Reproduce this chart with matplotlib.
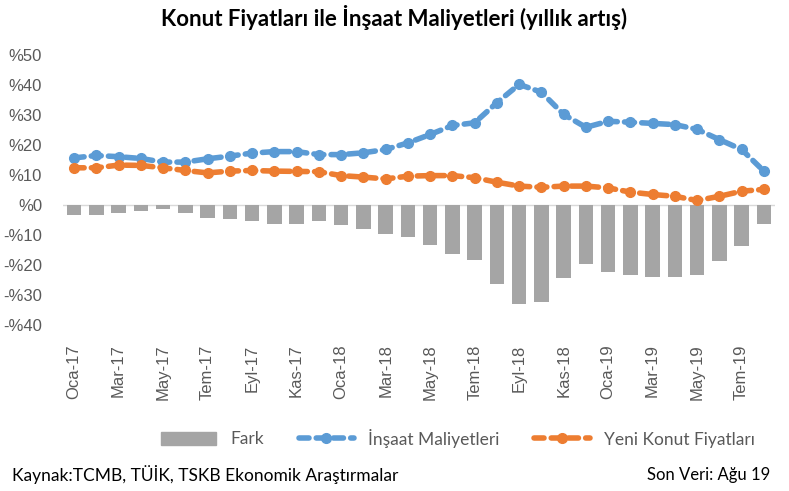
import matplotlib.pyplot as plt
from matplotlib.lines import Line2D
from matplotlib.patches import Patch

aylar = ["Oca", "Şub", "Mar", "Nis", "May", "Haz", "Tem", "Ağu", "Eyl", "Eki", "Kas", "Ara"]
etiketler = []
for yil in ["17", "18", "19"]:
    for ay in aylar:
        etiketler.append(ay + "-" + yil)
etiketler = etiketler[:32]  # Oca-17 .. Ağu-19

insaat = [15.7, 16.5, 16.1, 15.5, 14.3, 14.3, 15.4, 16.3, 17.3, 17.8, 17.8, 16.8,
          16.8, 17.4, 18.5, 20.7, 23.5, 26.5, 27.4, 34.1, 40.2, 37.6, 30.2, 25.9,
          27.9, 27.6, 27.2, 26.8, 25.2, 21.8, 18.5, 11.3]
konut = [12.4, 12.4, 13.3, 13.2, 12.4, 11.5, 10.7, 11.3, 11.5, 11.3, 11.2, 11.1,
         9.8, 9.3, 8.7, 9.6, 9.8, 9.8, 9.1, 7.6, 6.3, 5.9, 6.3, 6.3,
         5.7, 4.3, 3.5, 2.9, 1.5, 2.9, 4.6, 5.2]
fark = [-3.2, -3.2, -2.6, -2.0, -1.5, -2.6, -4.3, -4.8, -5.4, -6.3, -6.3, -5.4,
        -6.8, -7.9, -9.6, -10.6, -13.3, -16.5, -18.2, -26.2, -33.1, -32.5, -24.5, -19.7,
        -22.4, -23.4, -24.0, -24.0, -23.4, -18.6, -13.8, -6.3]

mavi = "#5B9BD5"
turuncu = "#ED7D31"
gri = "#A5A5A5"
yazi = "#595959"

plt.rcParams['font.family'] = ['Liberation Sans', 'DejaVu Sans']

fig = plt.figure(figsize=(7.89, 4.91), dpi=100)
ax = fig.add_axes([63 / 789, 1 - 325 / 491, 712 / 789, 270 / 491])

x = list(range(len(etiketler)))
ax.bar(x, fark, width=0.66, color=gri, zorder=2)
ax.plot(x, insaat, color=mavi, lw=4, dashes=(1.8, 1.3), dash_capstyle='round',
        marker='o', ms=7, zorder=3)
ax.plot(x, konut, color=turuncu, lw=4, dashes=(1.8, 1.3), dash_capstyle='round',
        marker='o', ms=7, zorder=3)
ax.axhline(0, color="#D9D9D9", lw=1, zorder=1)

ax.set_xlim(-0.5, len(x) - 0.5)
ax.set_ylim(-40, 50)
yt = list(range(-40, 51, 10))
ax.set_yticks(yt)
ax.set_yticklabels([("-%" + str(-v)) if v < 0 else ("%" + str(v)) for v in yt],
                   color=yazi, fontsize=12)
ax.set_xticks(x[::2])
ax.set_xticklabels(etiketler[::2], rotation=90, color=yazi, fontsize=12)
ax.tick_params(axis='x', length=0, pad=14)
ax.tick_params(axis='y', length=0, pad=15)
for s in ax.spines.values():
    s.set_visible(False)

fig.text(0.5, 1 - 18 / 491, "Konut Fiyatları ile İnşaat Maliyetleri (yıllık artış)",
         ha='center', va='center', fontsize=16, fontweight='bold', family='Lato')

handles = [Patch(color=gri),
           Line2D([], [], color=mavi, lw=4, dashes=(1.8, 1.3), dash_capstyle='round', marker='o', ms=7),
           Line2D([], [], color=turuncu, lw=4, dashes=(1.8, 1.3), dash_capstyle='round', marker='o', ms=7)]
fig.legend(handles, ["Fark", "İnşaat Maliyetleri", "Yeni Konut Fiyatları"],
           loc='center', bbox_to_anchor=(0.58, 1 - 438 / 491), ncol=3, frameon=False,
           prop={'family': 'Lato', 'size': 12.5}, labelcolor=yazi, handlelength=3.2,
           columnspacing=2.0)

fig.text(12 / 789, 1 - 475 / 491, "Kaynak:TCMB, TÜİK, TSKB Ekonomik Araştırmalar",
         ha='left', va='center', fontsize=12.5, family='Lato')
fig.text(770 / 789, 1 - 475 / 491, "Son Veri: Ağu 19",
         ha='right', va='center', fontsize=12, family='Lato')

fig.savefig("out.png", dpi=100)
